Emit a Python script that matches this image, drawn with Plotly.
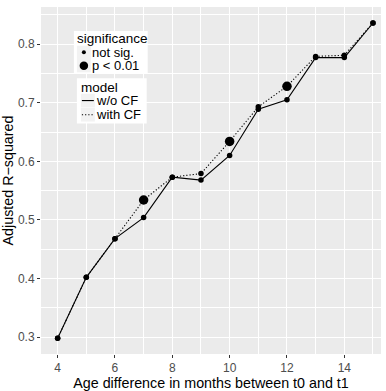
import plotly.graph_objects as go

months = [4, 5, 6, 7, 8, 9, 10, 11, 12, 13, 14, 15]
r2_without_cf = [0.298, 0.402, 0.468, 0.504, 0.573, 0.568, 0.610, 0.689, 0.705, 0.777, 0.777, 0.836]
r2_with_cf = [0.298, 0.402, 0.468, 0.534, 0.573, 0.579, 0.634, 0.693, 0.728, 0.779, 0.781, 0.836]
sig_without_cf = ["not sig."] * 12
sig_with_cf = ["not sig.", "not sig.", "not sig.", "p < 0.01", "not sig.", "not sig.",
               "p < 0.01", "not sig.", "p < 0.01", "not sig.", "not sig.", "not sig."]
x_ticks = [4, 6, 8, 10, 12, 14]
y_ticks = [0.3, 0.4, 0.5, 0.6, 0.7, 0.8]
sig_levels = ["not sig.", "p < 0.01"]
model_levels = ["w/o CF", "with CF"]

SIZE = {"not sig.": 5.5, "p < 0.01": 9.5}
KEY_SIZE = {"not sig.": 4, "p < 0.01": 8.5}
DASH = {"w/o CF": "solid", "with CF": "1.2px,2px"}
FONT = "Liberation Sans, Arial, sans-serif"

W, H = 386, 391
ML, MR, MT, MB = 40, 5, 7, 28
PW, PH = W - ML - MR, H - MT - MB

def px(xp):
    return (xp - ML) / PW

def py(yp):
    return 1 - (yp - MT) / PH

fig = go.Figure()
series = [("w/o CF", r2_without_cf, sig_without_cf), ("with CF", r2_with_cf, sig_with_cf)]
for name, ys, sig in series:
    fig.add_trace(go.Scatter(x=months, y=ys, mode="lines", name=name,
                             line=dict(color="black", width=1.1, dash=DASH[name]),
                             showlegend=False, hoverinfo="skip"))
for name, ys, sig in series:
    fig.add_trace(go.Scatter(x=months, y=ys, mode="markers", name=name,
                             marker=dict(color="#000000", opacity=1, size=[SIZE[s] for s in sig],
                                         line=dict(width=0)),
                             showlegend=False))

axis_common = dict(
    showgrid=True, gridcolor="white", gridwidth=1.1,
    ticks="outside", ticklen=3, tickcolor="#333333", tickwidth=1,
    tickfont=dict(family=FONT, size=12, color="#4D4D4D"),
    zeroline=False, showline=False,
)
fig.update_xaxes(range=[3.42, 15.28], tickvals=x_ticks, ticktext=[str(v) for v in x_ticks],
                 minor=dict(tickvals=[5, 7, 9, 11, 13, 15], showgrid=True,
                            gridcolor="white", gridwidth=0.55, ticks=""),
                 title=dict(text="Age difference in months between t0 and t1",
                            font=dict(family=FONT, size=14.3, color="black"), standoff=1),
                 **axis_common)
fig.update_yaxes(range=[0.2712, 0.8633], tickvals=y_ticks, ticktext=[f"{v:.1f}" for v in y_ticks],
                 minor=dict(tickvals=[0.35, 0.45, 0.55, 0.65, 0.75, 0.85], showgrid=True,
                            gridcolor="white", gridwidth=0.55, ticks=""),
                 title=dict(text="Adjusted R\u2212squared",
                            font=dict(family=FONT, size=14.3, color="black"), standoff=3),
                 **axis_common)

# ---- legends drawn inside the panel (ggplot style) ----
shapes = []
annots = []
def box(x0, y0, x1, y1, color):
    shapes.append(dict(type="rect", xref="paper", yref="paper", x0=px(x0), x1=px(x1),
                       y0=py(y1), y1=py(y0), fillcolor=color, line=dict(width=0), layer="above"))
def text(x, y, s, size):
    annots.append(dict(xref="paper", yref="paper", x=px(x), y=py(y), text=s, showarrow=False,
                       xanchor="left", yanchor="middle", borderpad=0,
                       font=dict(family=FONT, size=size, color="black")))

# significance legend
box(73, 31.5, 147, 75, "white")
text(75, 39, "significance", 13.5)
for i, lab in enumerate(sig_levels):
    yc = 53.5 + 13.7 * i
    box(76, yc - 6.8, 90, yc + 6.8, "#F2F2F2")
    shapes.append(dict(type="circle", xref="paper", yref="paper", xsizemode="pixel", ysizemode="pixel",
                       xanchor=px(83), yanchor=py(yc), x0=-KEY_SIZE[lab] / 2, x1=KEY_SIZE[lab] / 2,
                       y0=-KEY_SIZE[lab] / 2, y1=KEY_SIZE[lab] / 2, fillcolor="black",
                       line=dict(width=0), layer="above"))
    text(90.5, yc, lab, 13)

# model legend
box(76, 80, 146, 126.5, "white")
text(79, 89.5, "model", 13.5)
for i, lab in enumerate(model_levels):
    yc = 103 + 14.5 * i
    box(80, yc - 7, 94, yc + 7, "#F2F2F2")
    shapes.append(dict(type="line", xref="paper", yref="paper", x0=px(81), x1=px(93),
                       y0=py(yc), y1=py(yc), line=dict(color="black", width=1.1, dash=DASH[lab]),
                       layer="above"))
    text(94.5, yc, lab, 13)

fig.update_layout(
    width=W, height=H,
    margin=dict(l=ML, r=MR, t=MT, b=MB),
    paper_bgcolor="white", plot_bgcolor="#EBEBEB",
    showlegend=False, shapes=shapes, annotations=annots,
)

fig.write_html("out.html", config={"displayModeBar": False},
               post_script="document.body.style.margin='0';document.body.style.overflow='hidden';")
